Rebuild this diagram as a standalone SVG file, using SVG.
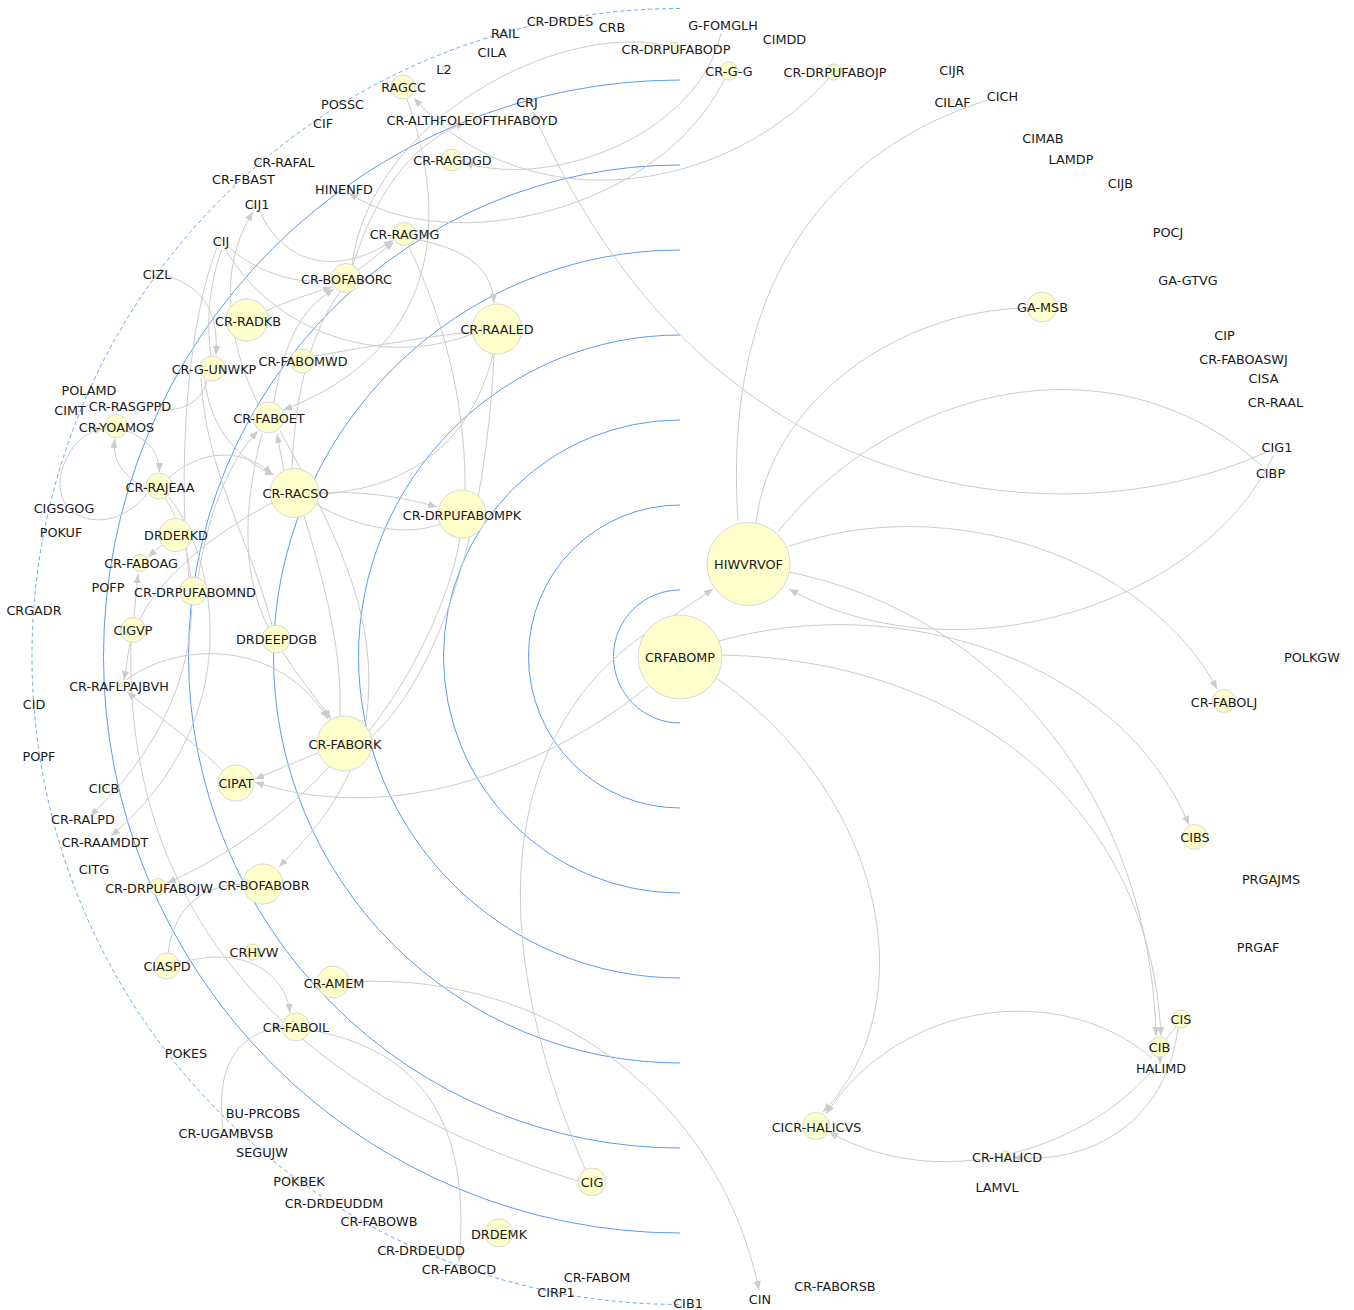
<svg xmlns="http://www.w3.org/2000/svg" width="1354" height="1310" viewBox="0 0 1354 1310">
<style>
.n circle{fill:#ffffcc;stroke:#d8d8d8;stroke-width:1}
.n text{font-family:"DejaVu Sans",sans-serif;font-size:12.8px;fill:#1a1a1a;text-anchor:middle;dominant-baseline:central}
.e path{fill:none;stroke:#cccccc;stroke-width:1}
.b path{fill:none;stroke:#5a9cf0;stroke-width:1}
.b path.d{stroke-dasharray:4 3;stroke:#6aa6f2}
</style>
<defs>
<marker id="a" viewBox="0 0 10 10" refX="10" refY="5" markerUnits="userSpaceOnUse" markerWidth="9" markerHeight="9" orient="auto">
<path d="M0,1 L10,5 L0,9 z" fill="#cccccc"/>
</marker>
</defs>
<rect width="1354" height="1310" fill="#ffffff"/>
<g class="b" id="rings">
<path d="M680,590 A66.5,66.5 0 0 0 680,723"/>
<path d="M680,505 A151.5,151.5 0 0 0 680,808"/>
<path d="M680,420 A236.5,236.5 0 0 0 680,893"/>
<path d="M680,335 A321.5,321.5 0 0 0 680,978"/>
<path d="M680,250 A406.5,406.5 0 0 0 680,1063"/>
<path d="M680,165 A491.5,491.5 0 0 0 680,1148"/>
<path d="M680,80 A576.5,576.5 0 0 0 680,1233"/>
<path class="d" d="M680,8.5 A648,648 0 0 0 680,1304.5"/>
</g>
<g class="e" id="connectors">
<path d="M988,100 C860,140 720,250 738,521"/>
<path d="M1027,308 C900,310 770,400 756,523"/>
<path d="M778,532 C890,390 1110,330 1262,466"/>
<path d="M1273,456 C1200,610 950,680 789,589" marker-end="url(#a)"/>
<path d="M1266,452 C1100,530 720,540 533,112" marker-end="url(#a)"/>
<path d="M790,546 C950,490 1150,560 1217,689" marker-end="url(#a)"/>
<path d="M789,572 C1000,615 1150,800 1156,1036" marker-end="url(#a)"/>
<path d="M719,641 C900,590 1120,660 1189,825" marker-end="url(#a)"/>
<path d="M722,655 C960,660 1150,800 1161,1036" marker-end="url(#a)"/>
<path d="M670,618 L713,589" marker-end="url(#a)"/>
<path d="M716,678 C880,790 930,1000 823,1112" marker-end="url(#a)"/>
<path d="M648,686 C560,760 400,830 255,782" marker-end="url(#a)"/>
<path d="M585,1169 C470,900 520,720 645,634"/>
<path d="M1152,1058 C1060,980 900,1000 826,1114" marker-end="url(#a)"/>
<path d="M1157,1064 C1100,1140 950,1200 829,1132" marker-end="url(#a)"/>
<path d="M1178,1028 C1165,1130 1080,1165 1013,1157" marker-end="url(#a)"/>
<path d="M1160,1055 L1160,1064" marker-end="url(#a)"/>
<path d="M1166,1039 L1176,1027"/>
<path d="M352,265 C370,120 560,20 668,46"/>
<path d="M721,33 C700,130 560,190 464,163" marker-end="url(#a)"/>
<path d="M724,80 C660,210 450,260 349,193" marker-end="url(#a)"/>
<path d="M829,78 C720,200 520,220 414,98" marker-end="url(#a)"/>
<path d="M353,265 C380,180 420,140 465,123" marker-end="url(#a)"/>
<path d="M407,99 C450,220 440,350 283,410" marker-end="url(#a)"/>
<path d="M260,212 C290,275 350,270 393,240" marker-end="url(#a)"/>
<path d="M358,270 L394,242" marker-end="url(#a)"/>
<path d="M415,239 C470,250 492,270 494,303" marker-end="url(#a)"/>
<path d="M408,245 C450,330 466,420 465,490"/>
<path d="M493,354 C470,450 400,490 319,494"/>
<path d="M225,248 C270,330 380,370 472,334"/>
<path d="M227,246 C260,275 300,285 331,280"/>
<path d="M168,276 C210,290 218,320 216,355" marker-end="url(#a)"/>
<path d="M205,380 C210,430 240,460 274,475" marker-end="url(#a)"/>
<path d="M168,479 C200,448 245,448 272,474" marker-end="url(#a)"/>
<path d="M127,431 C150,440 160,455 159,472" marker-end="url(#a)"/>
<path d="M148,489 C122,476 112,460 115,439" marker-end="url(#a)"/>
<path d="M147,494 C110,540 48,520 62,470 C70,445 84,432 103,429" marker-end="url(#a)"/>
<path d="M207,381 C200,405 180,411 158,410"/>
<path d="M319,493 C360,491 400,496 437,507" marker-end="url(#a)"/>
<path d="M440,524 C410,536 360,530 316,504"/>
<path d="M284,471 L277,434" marker-end="url(#a)"/>
<path d="M274,402 C285,340 300,310 334,289" marker-end="url(#a)"/>
<path d="M292,469 C295,390 312,330 340,292"/>
<path d="M314,356 C380,345 430,336 472,332"/>
<path d="M266,311 C290,300 310,294 332,287" marker-end="url(#a)"/>
<path d="M217,247 C185,330 178,480 189,577"/>
<path d="M222,249 C207,290 207,330 211,356"/>
<path d="M201,378 C205,470 250,540 272,625"/>
<path d="M165,498 C205,560 215,700 90,816" marker-end="url(#a)"/>
<path d="M169,497 C218,560 248,720 111,836" marker-end="url(#a)"/>
<path d="M280,431 C340,540 380,620 366,721"/>
<path d="M162,545 L148,557" marker-end="url(#a)"/>
<path d="M134,617 L138,574" marker-end="url(#a)"/>
<path d="M272,503 C200,540 152,590 140,620"/>
<path d="M130,643 L124,680" marker-end="url(#a)"/>
<path d="M223,771 C180,730 150,710 127,692" marker-end="url(#a)"/>
<path d="M126,680 C180,640 280,640 328,719" marker-end="url(#a)"/>
<path d="M283,652 C300,680 318,700 331,719" marker-end="url(#a)"/>
<path d="M318,753 C290,764 275,771 255,779" marker-end="url(#a)"/>
<path d="M329,767 C280,820 220,860 167,883" marker-end="url(#a)"/>
<path d="M350,771 C330,815 305,840 279,867" marker-end="url(#a)"/>
<path d="M369,731 C410,680 450,600 460,538"/>
<path d="M371,737 C425,690 485,560 494,354"/>
<path d="M168,953 C175,900 210,885 243,884"/>
<path d="M180,963 C240,945 285,970 290,1013" marker-end="url(#a)"/>
<path d="M223,1130 C215,1060 240,1035 282,1026" marker-end="url(#a)"/>
<path d="M310,1030 C420,1050 472,1120 459,1262" marker-end="url(#a)"/>
<path d="M350,982 C550,970 720,1100 759,1290" marker-end="url(#a)"/>
<path d="M131,643 C125,880 250,1080 578,1181"/>
<path d="M198,578 C210,500 235,455 258,431" marker-end="url(#a)"/>
<path d="M304,516 C330,600 342,660 340,716"/>
<path d="M258,404 C222,330 222,260 253,212" marker-end="url(#a)"/>
<path d="M262,433 C240,520 245,580 268,627"/>
</g>
<g id="nodes">
<g class="n" id="n-CRFABOMP"><circle cx="680" cy="657" r="42"/><text x="680" y="657">CRFABOMP</text></g>
<g class="n" id="n-HIWVRVOF"><circle cx="748.5" cy="564" r="41.5"/><text x="748.5" y="564">HIWVRVOF</text></g>
<g class="n" id="n-CR-FABORK"><circle cx="344.5" cy="743.5" r="27.5"/><text x="345" y="744">CR-FABORK</text></g>
<g class="n" id="n-CIPAT"><circle cx="236" cy="783" r="18"/><text x="236" y="783">CIPAT</text></g>
<g class="n" id="n-CR-BOFABOBR"><circle cx="263" cy="884" r="20"/><text x="264" y="885">CR-BOFABOBR</text></g>
<g class="n" id="n-CR-DRPUFABOJW"><circle cx="158" cy="887" r="8.5"/><text x="159" y="888">CR-DRPUFABOJW</text></g>
<g class="n" id="n-CRHVW"><circle cx="253" cy="952" r="8"/><text x="254" y="952">CRHVW</text></g>
<g class="n" id="n-CIASPD"><circle cx="167" cy="966" r="13"/><text x="167" y="966">CIASPD</text></g>
<g class="n" id="n-CR-AMEM"><circle cx="333" cy="982" r="16"/><text x="334" y="983">CR-AMEM</text></g>
<g class="n" id="n-CR-FABOIL"><circle cx="296" cy="1027" r="14"/><text x="296" y="1027">CR-FABOIL</text></g>
<g class="n" id="n-CIG"><circle cx="592" cy="1182" r="14"/><text x="592" y="1182">CIG</text></g>
<g class="n" id="n-DRDEMK"><circle cx="499" cy="1233" r="14"/><text x="499" y="1234">DRDEMK</text></g>
<g class="n" id="n-CICR-HALICVS"><circle cx="816" cy="1126" r="13.5"/><text x="816.5" y="1127">CICR-HALICVS</text></g>
<g class="n" id="n-CIS"><circle cx="1181" cy="1019" r="9"/><text x="1181" y="1019">CIS</text></g>
<g class="n" id="n-CIB"><circle cx="1159.5" cy="1047" r="10"/><text x="1159.5" y="1047">CIB</text></g>
<g class="n" id="n-CR-HALICD"><circle cx="1006" cy="1156" r="5"/><text x="1007" y="1157">CR-HALICD</text></g>
<g class="n" id="n-CR-FABOLJ"><circle cx="1224" cy="701" r="11.5"/><text x="1224" y="702">CR-FABOLJ</text></g>
<g class="n" id="n-CIBS"><circle cx="1195" cy="837" r="12.5"/><text x="1195" y="837">CIBS</text></g>
<g class="n" id="n-PRGAJMS"><circle cx="1272" cy="879" r="7"/><text x="1271" y="879">PRGAJMS</text></g>
<g class="n" id="n-GA-MSB"><circle cx="1042" cy="307" r="15"/><text x="1042.5" y="307">GA-MSB</text></g>
<g class="n" id="n-CR-G-G"><circle cx="729" cy="71" r="9"/><text x="729" y="71">CR-G-G</text></g>
<g class="n" id="n-CR-DRPUFABOJP"><circle cx="834" cy="72" r="8"/><text x="835" y="72">CR-DRPUFABOJP</text></g>
<g class="n" id="n-CR-DRPUFABODP"><circle cx="674" cy="48" r="6"/><text x="676" y="49">CR-DRPUFABODP</text></g>
<g class="n" id="n-CR-ALTHFOLEOFTHFABOYD"><circle cx="471" cy="119" r="6"/><text x="472" y="120">CR-ALTHFOLEOFTHFABOYD</text></g>
<g class="n" id="n-CR-RAGDGD"><circle cx="452" cy="160" r="11"/><text x="452.5" y="160">CR-RAGDGD</text></g>
<g class="n" id="n-CR-RAALED"><circle cx="497" cy="329" r="25"/><text x="497" y="329">CR-RAALED</text></g>
<g class="n" id="n-CR-DRPUFABOMPK"><circle cx="462" cy="514" r="24"/><text x="462" y="515">CR-DRPUFABOMPK</text></g>
<g class="n" id="n-RAGCC"><circle cx="403" cy="87" r="12"/><text x="403.5" y="87">RAGCC</text></g>
<g class="n" id="n-HINENFD"><circle cx="344" cy="189" r="4"/><text x="344" y="189">HINENFD</text></g>
<g class="n" id="n-CR-RAGMG"><circle cx="404.5" cy="234" r="11.5"/><text x="404.5" y="234">CR-RAGMG</text></g>
<g class="n" id="n-CR-BOFABORC"><circle cx="346" cy="278" r="14.5"/><text x="346.5" y="279">CR-BOFABORC</text></g>
<g class="n" id="n-CR-RADKB"><circle cx="247" cy="320" r="21"/><text x="248" y="321">CR-RADKB</text></g>
<g class="n" id="n-CR-G-UNWKP"><circle cx="212.5" cy="368.5" r="12.5"/><text x="214" y="369">CR-G-UNWKP</text></g>
<g class="n" id="n-CR-FABOMWD"><circle cx="302" cy="361" r="12"/><text x="303" y="361">CR-FABOMWD</text></g>
<g class="n" id="n-CR-YOAMOS"><circle cx="116" cy="426" r="11.5"/><text x="116.5" y="427">CR-YOAMOS</text></g>
<g class="n" id="n-CR-FABOET"><circle cx="268.5" cy="417.5" r="15.5"/><text x="269" y="418">CR-FABOET</text></g>
<g class="n" id="n-CR-RACSO"><circle cx="294.5" cy="493" r="24.5"/><text x="295.5" y="493">CR-RACSO</text></g>
<g class="n" id="n-CR-RAJEAA"><circle cx="159" cy="486" r="13"/><text x="160" y="487">CR-RAJEAA</text></g>
<g class="n" id="n-DRDERKD"><circle cx="175.5" cy="535" r="16.5"/><text x="176" y="535">DRDERKD</text></g>
<g class="n" id="n-CR-FABOAG"><circle cx="140" cy="563" r="8.5"/><text x="141" y="563">CR-FABOAG</text></g>
<g class="n" id="n-CR-DRPUFABOMND"><circle cx="193.5" cy="591" r="14"/><text x="195" y="592">CR-DRPUFABOMND</text></g>
<g class="n" id="n-CIGVP"><circle cx="133" cy="630" r="12.5"/><text x="133" y="630">CIGVP</text></g>
<g class="n" id="n-DRDEEPDGB"><circle cx="276" cy="639" r="14"/><text x="276.5" y="639">DRDEEPDGB</text></g>
<g class="n" id="n-CR-DRDES"><circle cx="560" cy="21" r="0"/><text x="560" y="21">CR-DRDES</text></g>
<g class="n" id="n-RAIL"><circle cx="505" cy="33" r="0"/><text x="505" y="33">RAIL</text></g>
<g class="n" id="n-CRB"><circle cx="612" cy="27" r="0"/><text x="612" y="27">CRB</text></g>
<g class="n" id="n-G-FOMGLH"><circle cx="723" cy="25" r="0"/><text x="723" y="25">G-FOMGLH</text></g>
<g class="n" id="n-CILA"><circle cx="492" cy="52" r="0"/><text x="492" y="52">CILA</text></g>
<g class="n" id="n-CIMDD"><circle cx="784" cy="39" r="0"/><text x="784.5" y="39">CIMDD</text></g>
<g class="n" id="n-CRJ"><circle cx="527" cy="102" r="0"/><text x="527" y="102">CRJ</text></g>
<g class="n" id="n-L2"><circle cx="444" cy="68" r="2"/><text x="444" y="69">L2</text></g>
<g class="n" id="n-POSSC"><circle cx="342" cy="104" r="0"/><text x="342.5" y="104">POSSC</text></g>
<g class="n" id="n-CIF"><circle cx="318" cy="122" r="2"/><text x="323" y="123">CIF</text></g>
<g class="n" id="n-CR-RAFAL"><circle cx="284" cy="162" r="0"/><text x="284" y="162">CR-RAFAL</text></g>
<g class="n" id="n-CR-FBAST"><circle cx="243" cy="179" r="0"/><text x="243.5" y="179">CR-FBAST</text></g>
<g class="n" id="n-CIJ1"><circle cx="254" cy="205" r="2"/><text x="257" y="204">CIJ1</text></g>
<g class="n" id="n-CIJ"><circle cx="220" cy="240" r="2"/><text x="221" y="241">CIJ</text></g>
<g class="n" id="n-CIZL"><circle cx="157" cy="274" r="0"/><text x="157" y="274">CIZL</text></g>
<g class="n" id="n-POLAMD"><circle cx="89" cy="390" r="0"/><text x="89" y="390">POLAMD</text></g>
<g class="n" id="n-CIMT"><circle cx="70" cy="410" r="0"/><text x="70" y="410">CIMT</text></g>
<g class="n" id="n-CR-RASGPPD"><circle cx="130" cy="406" r="0"/><text x="130" y="406">CR-RASGPPD</text></g>
<g class="n" id="n-CIGSGOG"><circle cx="64" cy="508" r="0"/><text x="64" y="508">CIGSGOG</text></g>
<g class="n" id="n-POKUF"><circle cx="61" cy="532" r="0"/><text x="61" y="532">POKUF</text></g>
<g class="n" id="n-POFP"><circle cx="108" cy="587" r="0"/><text x="108" y="587">POFP</text></g>
<g class="n" id="n-CRGADR"><circle cx="34" cy="610" r="0"/><text x="34" y="610">CRGADR</text></g>
<g class="n" id="n-CR-RAFLPAJBVH"><circle cx="121" cy="685" r="2"/><text x="119" y="686">CR-RAFLPAJBVH</text></g>
<g class="n" id="n-CID"><circle cx="34" cy="704" r="0"/><text x="34" y="704">CID</text></g>
<g class="n" id="n-POPF"><circle cx="39" cy="756" r="0"/><text x="39" y="756">POPF</text></g>
<g class="n" id="n-CICB"><circle cx="105" cy="787" r="2"/><text x="104" y="788">CICB</text></g>
<g class="n" id="n-CR-RALPD"><circle cx="83" cy="819" r="0"/><text x="83" y="819">CR-RALPD</text></g>
<g class="n" id="n-CR-RAAMDDT"><circle cx="105" cy="842" r="0"/><text x="105" y="842">CR-RAAMDDT</text></g>
<g class="n" id="n-CITG"><circle cx="94" cy="869" r="0"/><text x="94" y="869">CITG</text></g>
<g class="n" id="n-POKES"><circle cx="186" cy="1053" r="0"/><text x="186" y="1053">POKES</text></g>
<g class="n" id="n-BU-PRCOBS"><circle cx="263" cy="1113" r="0"/><text x="263" y="1113">BU-PRCOBS</text></g>
<g class="n" id="n-CR-UGAMBVSB"><circle cx="226" cy="1133" r="0"/><text x="226" y="1133">CR-UGAMBVSB</text></g>
<g class="n" id="n-SEGUJW"><circle cx="262" cy="1152" r="0"/><text x="262" y="1152">SEGUJW</text></g>
<g class="n" id="n-POKBEK"><circle cx="299" cy="1181" r="0"/><text x="299" y="1181">POKBEK</text></g>
<g class="n" id="n-CR-DRDEUDDM"><circle cx="334" cy="1203" r="0"/><text x="334" y="1203">CR-DRDEUDDM</text></g>
<g class="n" id="n-CR-FABOWB"><circle cx="379" cy="1221" r="0"/><text x="379" y="1221">CR-FABOWB</text></g>
<g class="n" id="n-CR-DRDEUDD"><circle cx="421" cy="1250" r="0"/><text x="421" y="1250">CR-DRDEUDD</text></g>
<g class="n" id="n-CR-FABOCD"><circle cx="459" cy="1269" r="0"/><text x="459" y="1269">CR-FABOCD</text></g>
<g class="n" id="n-CR-FABOM"><circle cx="597" cy="1277" r="0"/><text x="597" y="1277">CR-FABOM</text></g>
<g class="n" id="n-CIRP1"><circle cx="556" cy="1292" r="0"/><text x="556" y="1292">CIRP1</text></g>
<g class="n" id="n-CIB1"><circle cx="688" cy="1303" r="0"/><text x="688" y="1303">CIB1</text></g>
<g class="n" id="n-CIN"><circle cx="760" cy="1299" r="0"/><text x="760" y="1299">CIN</text></g>
<g class="n" id="n-CR-FABORSB"><circle cx="835" cy="1286" r="0"/><text x="835" y="1286">CR-FABORSB</text></g>
<g class="n" id="n-CIJR"><circle cx="952" cy="70" r="0"/><text x="952" y="70">CIJR</text></g>
<g class="n" id="n-CILAF"><circle cx="952" cy="102" r="2"/><text x="952.5" y="102">CILAF</text></g>
<g class="n" id="n-CICH"><circle cx="1000" cy="97" r="2"/><text x="1002.5" y="96">CICH</text></g>
<g class="n" id="n-CIMAB"><circle cx="1043" cy="138" r="0"/><text x="1043" y="138">CIMAB</text></g>
<g class="n" id="n-LAMDP"><circle cx="1071" cy="159" r="0"/><text x="1071" y="159">LAMDP</text></g>
<g class="n" id="n-CIJB"><circle cx="1120" cy="183" r="0"/><text x="1120.5" y="183">CIJB</text></g>
<g class="n" id="n-POCJ"><circle cx="1168" cy="232" r="0"/><text x="1168" y="232">POCJ</text></g>
<g class="n" id="n-GA-GTVG"><circle cx="1188" cy="280" r="0"/><text x="1188" y="280">GA-GTVG</text></g>
<g class="n" id="n-CIP"><circle cx="1224" cy="335" r="0"/><text x="1224.5" y="335">CIP</text></g>
<g class="n" id="n-CR-FABOASWJ"><circle cx="1243" cy="359" r="0"/><text x="1243.5" y="359">CR-FABOASWJ</text></g>
<g class="n" id="n-CISA"><circle cx="1263" cy="378" r="0"/><text x="1263.5" y="378">CISA</text></g>
<g class="n" id="n-CR-RAAL"><circle cx="1275" cy="402" r="0"/><text x="1275.5" y="402">CR-RAAL</text></g>
<g class="n" id="n-CIG1"><circle cx="1277" cy="447" r="0"/><text x="1277" y="447">CIG1</text></g>
<g class="n" id="n-CIBP"><circle cx="1270" cy="473" r="0"/><text x="1270.5" y="473">CIBP</text></g>
<g class="n" id="n-POLKGW"><circle cx="1312" cy="657" r="0"/><text x="1312" y="657">POLKGW</text></g>
<g class="n" id="n-PRGAF"><circle cx="1258" cy="947" r="0"/><text x="1258" y="947">PRGAF</text></g>
<g class="n" id="n-HALIMD"><circle cx="1161" cy="1068" r="0"/><text x="1161" y="1068">HALIMD</text></g>
<g class="n" id="n-LAMVL"><circle cx="997" cy="1187" r="0"/><text x="997" y="1187">LAMVL</text></g>
</g>
</svg>
